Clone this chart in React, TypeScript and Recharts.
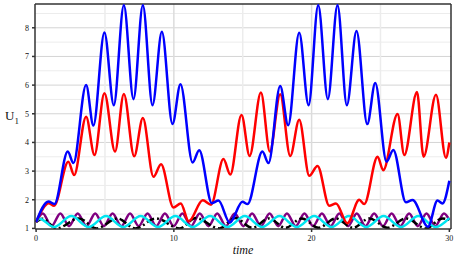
import { LineChart, Line, XAxis, YAxis, ReferenceLine, Label } from 'recharts';

// extrema (time, U1)
const blueT = [0, 0.9, 1.33, 2.3, 2.71, 3.63, 4.16, 4.96, 5.64, 6.37, 7.07, 7.75, 8.45, 9.13, 9.9, 10.48, 11.36, 11.84, 12.76, 13.24, 14.06, 14.98, 15.35, 16.43, 16.87, 17.72, 18.3, 19.1, 19.78, 20.48, 21.18, 21.88, 22.56, 23.26, 24.04, 24.62, 25.44, 25.93, 26.85, 27.33, 28.45, 29.14, 29.5, 30];
const blueU = [1.22, 1.94, 1.85, 3.68, 3.28, 6.0, 4.59, 7.84, 5.3, 8.79, 5.51, 8.79, 5.3, 7.86, 4.64, 6.03, 3.3, 3.73, 1.88, 1.97, 1.2, 1.93, 1.85, 3.68, 3.28, 5.97, 4.6, 7.83, 5.3, 8.79, 5.51, 8.79, 5.3, 7.89, 4.64, 6.07, 3.33, 3.74, 1.91, 1.99, 1.06, 1.97, 1.87, 2.66];

const redT = [0, 0.92, 1.3, 2.34, 2.76, 3.63, 4.24, 4.96, 5.73, 6.37, 7.12, 7.75, 8.52, 9.07, 9.97, 10.5, 11.08, 12.1, 12.7, 13.6, 14.1, 14.91, 15.5, 16.32, 16.97, 17.72, 18.45, 19.1, 19.83, 20.43, 21.28, 21.77, 22.6, 23.46, 23.82, 24.79, 25.2, 26.24, 26.73, 27.65, 28.13, 29.03, 29.75, 30];
const redU = [1.22, 1.88, 1.79, 3.33, 2.86, 4.9, 3.56, 5.72, 3.68, 5.69, 3.52, 4.85, 2.8, 3.24, 1.73, 1.87, 1.25, 1.98, 1.83, 3.42, 2.88, 4.96, 3.53, 5.74, 3.68, 5.68, 3.53, 4.79, 2.84, 3.18, 1.79, 1.87, 1.18, 2.0, 1.85, 3.5, 3.03, 4.99, 3.56, 5.76, 3.5, 5.66, 3.47, 4.0];

const purpleT = [0, 0.49, 1.12, 1.76, 2.39, 3.02, 3.66, 4.29, 4.92, 5.55, 6.19, 6.82, 7.45, 8.09, 8.72, 9.35, 9.99, 10.62, 11.25, 11.88, 12.52, 13.15, 13.78, 14.42, 15.05, 15.68, 16.32, 16.95, 17.58, 18.21, 18.85, 19.48, 20.11, 20.75, 21.38, 22.01, 22.65, 23.28, 23.91, 24.54, 25.18, 25.81, 26.44, 27.08, 27.71, 28.34, 28.98, 29.61, 30];
const purpleU = [1.22, 1.52, 1.08, 1.52, 1.08, 1.52, 1.08, 1.52, 1.08, 1.52, 1.08, 1.52, 1.08, 1.52, 1.08, 1.52, 1.08, 1.52, 1.08, 1.52, 1.08, 1.52, 1.08, 1.52, 1.08, 1.52, 1.08, 1.52, 1.08, 1.52, 1.08, 1.52, 1.08, 1.52, 1.08, 1.52, 1.08, 1.52, 1.08, 1.52, 1.08, 1.52, 1.08, 1.52, 1.08, 1.52, 1.08, 1.52, 1.3];

const cyanT = [0, 0.25, 1.3, 2.55, 3.81, 5.07, 6.33, 7.59, 8.85, 10.11, 11.37, 12.63, 13.89, 15.15, 16.41, 17.67, 18.93, 20.19, 21.45, 22.71, 23.97, 25.23, 26.49, 27.75, 29.01, 30];
const cyanU = [1.22, 1.34, 1.05, 1.43, 1.05, 1.43, 1.05, 1.43, 1.05, 1.43, 1.05, 1.43, 1.05, 1.43, 1.05, 1.43, 1.05, 1.43, 1.05, 1.43, 1.05, 1.43, 1.05, 1.43, 1.05, 1.36];

const blackT = [0, 0.45, 1.5, 3.1, 4.4, 5.9, 7.2, 8.7, 10.4, 11.6, 13.3, 14.45, 15.7, 16.9, 18.1, 19.3, 20.5, 21.75, 23.0, 24.2, 25.5, 26.85, 28.3, 29.5, 30];
const blackU = [1.22, 1.34, 1.0, 1.35, 1.0, 1.35, 1.0, 1.35, 1.0, 1.36, 1.0, 1.36, 1.02, 1.35, 1.02, 1.35, 1.02, 1.35, 1.02, 1.35, 1.02, 1.35, 1.0, 1.35, 1.3];

const xTicks = [0, 10, 20, 30];
const yTicks = [1, 2, 3, 4, 5, 6, 7, 8];
const yMinor = [1.5, 2.5, 3.5, 4.5, 5.5, 6.5, 7.5, 8.5];
const xMinor = [5, 15, 25];
const xMajor = [10, 20];

const pts = (t: number[], u: number[]) => t.map((v, i) => ({ t: v, u: u[i] }));

const series = [
  { key: 'purple', data: pts(purpleT, purpleU), color: '#800080', dash: undefined },
  { key: 'black', data: pts(blackT, blackU), color: '#000000', dash: '8 3 2 3' },
  { key: 'cyan', data: pts(cyanT, cyanU), color: '#00e5f0', dash: undefined },
  { key: 'red', data: pts(redT, redU), color: '#ff0000', dash: undefined },
  { key: 'blue', data: pts(blueT, blueU), color: '#0000ff', dash: undefined },
];

const serif = '"Liberation Serif", "DejaVu Serif", serif';
const tick = { fontSize: 8, fill: '#111', fontFamily: serif };

export default function App() {
  return (
    <div style={{ position: 'absolute', left: 0, top: 0, background: '#fff' }}>
      <LineChart width={458} height={262} margin={{ top: 4, right: 7, bottom: 13, left: 0 }}>
        <XAxis
          type="number"
          dataKey="t"
          domain={[-0.08, 30.12]}
          ticks={xTicks}
          allowDataOverflow
          height={20}
          tick={tick}
          tickSize={3}
          tickMargin={3}
          stroke="#333"
          strokeWidth={1.5}
        >
          <Label
            content={() => (
              <text x={243} y={254} textAnchor="middle" fontFamily={serif} fontStyle="italic" fontSize={12} fill="#111">
                time
              </text>
            )}
          />
        </XAxis>
        <YAxis
          type="number"
          dataKey="u"
          domain={[0.98, 8.83]}
          ticks={yTicks}
          allowDataOverflow
          width={35}
          tick={tick}
          tickSize={3}
          tickMargin={3}
          stroke="#333"
          strokeWidth={1.5}
        >
          <Label
            content={() => (
              <text x={5} y={120} fontFamily={serif} fontSize={13} fill="#111">
                U<tspan fontSize={9} dy={4}>1</tspan>
              </text>
            )}
          />
        </YAxis>
        {yMinor.map((v) => (
          <ReferenceLine key={'ym' + v} y={v} stroke="#ececec" strokeWidth={1} />
        ))}
        {yTicks.slice(1).map((v) => (
          <ReferenceLine key={'yM' + v} y={v} stroke="#d4d4d4" strokeWidth={1} />
        ))}
        {xMinor.map((v) => (
          <ReferenceLine key={'xm' + v} x={v} stroke="#ececec" strokeWidth={1.5} />
        ))}
        {xMajor.map((v) => (
          <ReferenceLine key={'xM' + v} x={v} stroke="#dcdcdc" strokeWidth={1.5} />
        ))}
        <ReferenceLine y={8.83} stroke="#333" strokeWidth={1.5} />
        <ReferenceLine x={30.12} stroke="#333" strokeWidth={1.5} />
        {series.map((s) => (
          <Line
            key={s.key}
            data={s.data}
            dataKey="u"
            type="monotone"
            stroke={s.color}
            strokeWidth={2.5}
            strokeDasharray={s.dash}
            dot={false}
            activeDot={false}
            isAnimationActive={false}
          />
        ))}
      </LineChart>
    </div>
  );
}
